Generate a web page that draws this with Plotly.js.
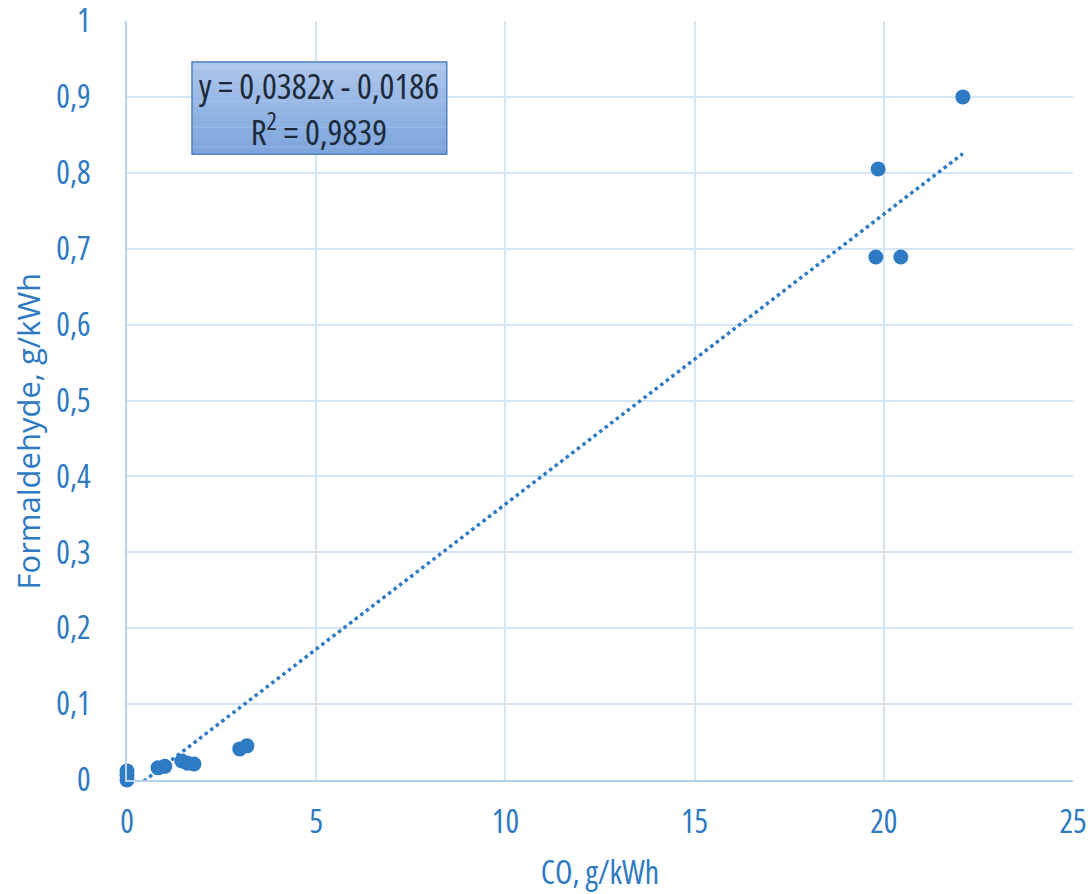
<!DOCTYPE html>
<html>
<head>
<meta charset="utf-8">
<script src="https://cdn.plot.ly/plotly-3.0.1.min.js"></script>
<style>
html,body{margin:0;padding:0;background:#fff;}
#chart .main-svg text{font-stretch:condensed !important;}
#chart .main-svg .annotation[data-index="1"] text{font-stretch:normal !important;}
</style>
</head>
<body>
<div id="chart" style="width:1091px;height:894px;"></div>
<script>
const coValues = [0, 0, 0, 0.82, 1.0, 1.45, 1.6, 1.77, 2.98, 3.17, 19.79, 19.85, 20.45, 22.09];
const formaldehydeValues = [0.0, 0.006, 0.012, 0.016, 0.018, 0.025, 0.022, 0.021, 0.041, 0.045, 0.689, 0.805, 0.689, 0.900];
const slope = 0.0382;
const intercept = -0.0186;
const trendX = [0, 22.09];
const trendY = trendX.map(x => slope * x + intercept);
const xTickVals = [0, 5, 10, 15, 20, 25];
const yTickVals = [0, 0.1, 0.2, 0.3, 0.4, 0.5, 0.6, 0.7, 0.8, 0.9, 1];
const xTitle = 'CO, g/kWh';
const yTitle = 'Formaldehyde, g/kWh';
const equationText = 'y = 0,0382x - 0,0186<br>R<sup>2</sup> = 0,9839';

const FONT = '"Open Sans", "Noto Sans", sans-serif';
const BLUE = '#2f7bc3';
const TXT = '#2e7ac1';

const traces = [
  {x: trendX, y: trendY, mode: 'lines', type: 'scatter',
   line: {color: BLUE, width: 3.5, dash: 'dot'}, hoverinfo: 'skip', showlegend: false},
  {x: coValues, y: formaldehydeValues, mode: 'markers', type: 'scatter',
   marker: {color: BLUE, size: 15}, showlegend: false, cliponaxis: false}
];

// gradient-like annotation box built from thin bands
const boxX0 = 0.0687, boxX1 = 0.338, boxY0 = 0.8245, boxY1 = 0.946;
const bandCount = 14;
const colTop = [172, 197, 235], colBot = [126, 166, 221];
const boxShapes = [];
for (let i = 0; i < bandCount; i++) {
  const t = i / (bandCount - 1);
  const c = colTop.map((v, k) => Math.round(v + (colBot[k] - v) * t));
  const by1 = boxY1 - (boxY1 - boxY0) * i / bandCount;
  const by0 = boxY1 - (boxY1 - boxY0) * (i + 1) / bandCount;
  boxShapes.push({type: 'rect', xref: 'paper', yref: 'paper', x0: boxX0, x1: boxX1, y0: by0, y1: by1 + 0.0005,
    fillcolor: 'rgb(' + c.join(',') + ')', line: {width: 0}, layer: 'above'});
}
boxShapes.push({type: 'rect', xref: 'paper', yref: 'paper', x0: boxX0, x1: boxX1, y0: boxY0, y1: boxY1,
  fillcolor: 'rgba(0,0,0,0)', line: {color: '#4f82c0', width: 1.5}, layer: 'above'});

const layout = {
  width: 1091, height: 894,
  margin: {l: 127, r: 18, t: 21, b: 114},
  paper_bgcolor: '#fff', plot_bgcolor: '#fff',
  separators: ',.',
  font: {family: FONT, color: TXT, size: 32},
  xaxis: {
    range: [0, 25], tickvals: xTickVals, showgrid: true, gridcolor: '#d6e5f3', gridwidth: 2,
    zeroline: false, showline: true, linecolor: '#b7d1ea', linewidth: 2,
    ticks: 'outside', ticklen: 13, tickcolor: 'rgba(0,0,0,0)', ticklabeloverflow: 'allow',
    tickfont: {family: FONT, color: TXT, size: 32},
    title: {text: xTitle, font: {family: FONT, color: TXT, size: 32}, standoff: 20}
  },
  yaxis: {
    range: [0, 1], tickvals: yTickVals, showgrid: true, gridcolor: '#d6e5f3', gridwidth: 2,
    zeroline: false, showline: true, linecolor: '#b7d1ea', linewidth: 2,
    ticks: 'outside', ticklen: 28, tickcolor: 'rgba(0,0,0,0)', ticklabeloverflow: 'allow',
    tickfont: {family: FONT, color: TXT, size: 32}
  },
  shapes: boxShapes,
  annotations: [
    {xref: 'paper', yref: 'paper', x: (boxX0 + boxX1) / 2, y: (boxY0 + boxY1) / 2, xanchor: 'center', yanchor: 'middle',
     text: equationText, showarrow: false, align: 'center',
     font: {family: FONT, color: '#1c2a3a', size: 35}},
    {xref: 'paper', yref: 'paper', x: -0.1047, y: 0.4604, xanchor: 'center', yanchor: 'middle',
     text: yTitle, textangle: -90, showarrow: false,
     font: {family: FONT, color: TXT, size: 31}}
  ]
};

Plotly.newPlot('chart', traces, layout, {displayModeBar: false, staticPlot: true});
</script>
</body>
</html>
